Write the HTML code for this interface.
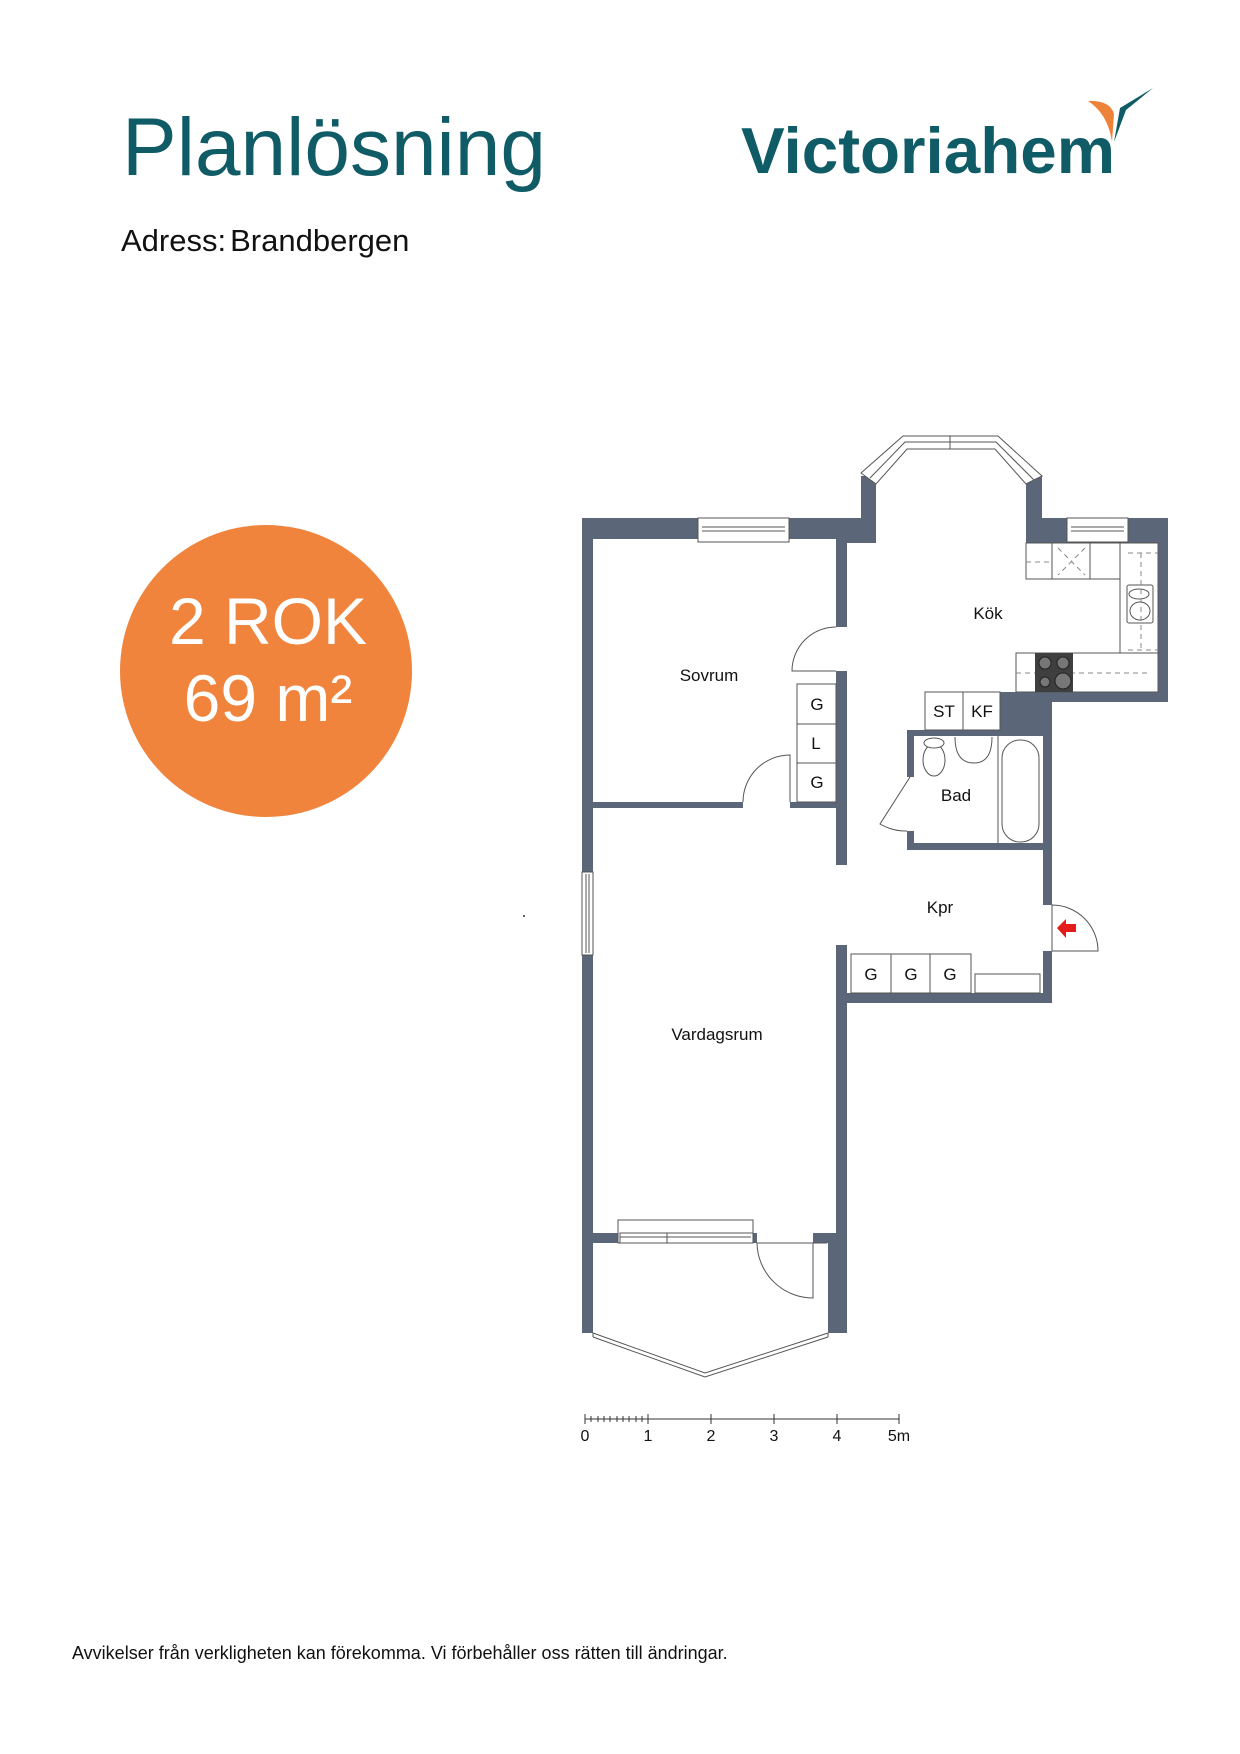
<!DOCTYPE html>
<html><head><meta charset="utf-8"><style>
html,body{margin:0;padding:0;background:#fff}
svg{display:block}
text{font-family:"Liberation Sans",Arial,sans-serif}
</style></head><body>
<svg width="1240" height="1754" viewBox="0 0 1240 1754" xmlns="http://www.w3.org/2000/svg">
<!-- header -->
<text x="122" y="175" font-size="82" fill="#0f5b66">Planlösning</text>
<text x="741" y="173" font-size="65" font-weight="bold" fill="#0f5b66" textLength="374" lengthAdjust="spacingAndGlyphs">Victoriahem</text>
<path d="M1088,101 Q1110,100 1114,114 L1112,142 Q1108,114 1088,101Z" fill="#ee8238"/>
<path d="M1114,142 L1120,108 L1153,88 L1126,110Z" fill="#0f5b66"/>
<text x="121" y="251" font-size="31" fill="#111">Adress:<tspan dx="4">Brandbergen</tspan></text>

<circle cx="266" cy="671" r="146" fill="#f0843d"/>
<text x="268" y="644" font-size="66" fill="#fff" text-anchor="middle">2 ROK</text>
<text x="268" y="721" font-size="66" fill="#fff" text-anchor="middle">69 m²</text>

<g fill="#5b6779">
<rect x="582" y="518" width="11" height="354"/>
<rect x="582" y="955" width="11" height="378"/>
<rect x="582" y="518" width="294" height="21"/>
<rect x="847" y="518" width="29" height="25"/>
<rect x="861" y="476" width="15" height="67"/>
<rect x="1026" y="476" width="16" height="67"/>
<rect x="1026" y="518" width="142" height="25"/>
<rect x="1158" y="518" width="10" height="184"/>
<rect x="1000" y="692" width="168" height="10"/>
<rect x="1000" y="692" width="52" height="44"/>
<rect x="1043" y="702" width="9" height="203"/>
<rect x="1043" y="951" width="9" height="52"/>
<rect x="907" y="730" width="145" height="6"/>
<rect x="907" y="730" width="7" height="47"/>
<rect x="907" y="831" width="7" height="19"/>
<rect x="907" y="843" width="136" height="7"/>
<rect x="836" y="538" width="11" height="89"/>
<rect x="836" y="671" width="11" height="194"/>
<rect x="593" y="802" width="150" height="6"/>
<rect x="790" y="802" width="46" height="6"/>
<rect x="836" y="993" width="216" height="10"/>
<rect x="836" y="945" width="11" height="298"/>
<rect x="813" y="1233" width="34" height="10"/>
<rect x="828" y="1233" width="19" height="100"/>
<rect x="593" y="1233" width="25" height="10"/>
<rect x="753" y="1233" width="4" height="10"/>
</g>

<g fill="#fff" stroke="#555" stroke-width="1">
<rect x="698" y="518" width="91" height="24"/>
<line x1="702" y1="527" x2="785" y2="527"/><line x1="702" y1="531" x2="785" y2="531"/>
<rect x="1067" y="518" width="61" height="24"/>
<line x1="1071" y1="527" x2="1124" y2="527"/><line x1="1071" y1="531" x2="1124" y2="531"/>
<rect x="582" y="872" width="11" height="83"/>
<line x1="586" y1="874" x2="586" y2="953"/><line x1="589" y1="874" x2="589" y2="953"/>
<rect x="618" y="1220" width="135" height="23"/>
<rect x="620" y="1233" width="133" height="10"/>
<line x1="620" y1="1237" x2="751" y2="1237"/><line x1="667" y1="1233" x2="667" y2="1243"/>
<path d="M861,473 L903,436 L998,436 L1042,476 L1026,484 L995,449 L907,449 L876,484 Z"/>
<polyline fill="none" points="870,478 905,442 996,442 1034,480"/>
<line x1="950" y1="436" x2="950" y2="449"/>
<rect x="1026" y="543" width="132" height="36"/>
<rect x="1120" y="543" width="38" height="149"/>
<rect x="1016" y="653" width="142" height="39"/>
<line x1="1052" y1="543" x2="1052" y2="579"/><line x1="1090" y1="543" x2="1090" y2="579"/>
<rect x="1127" y="585" width="26" height="38" rx="2"/>
<ellipse cx="1139" cy="594" rx="10" ry="5"/><ellipse cx="1140" cy="611" rx="10" ry="9"/>
<rect x="925" y="692" width="75" height="38"/>
<line x1="963" y1="692" x2="963" y2="730"/>
<rect x="797" y="684" width="39" height="118"/>
<line x1="797" y1="724" x2="836" y2="724"/><line x1="797" y1="763" x2="836" y2="763"/>
<rect x="851" y="954" width="120" height="39"/>
<line x1="891" y1="954" x2="891" y2="993"/><line x1="930" y1="954" x2="930" y2="993"/>
<rect x="975" y="974" width="65" height="19"/>
<line x1="998" y1="736" x2="998" y2="843"/>
<rect x="1002" y="740" width="37" height="102" rx="18"/>
<ellipse cx="934" cy="760" rx="11" ry="16"/>
<ellipse cx="934" cy="743" rx="10" ry="5"/>
<path d="M955,737 Q955,763 974,763 Q992,763 992,737"/>
</g>
<g fill="none" stroke="#555" stroke-width="1">
<path d="M1128,553 L1158,553 M1128,650 L1158,650 M1141,553 L1141,650 M1026,562 L1052,562 M1058,548 L1085,575 M1085,548 L1058,575 M1016,673 L1150,673" stroke-dasharray="5,4" stroke="#888"/>
<path d="M836,627 A44,44 0 0 0 792,671 L836,671"/>
<path d="M743,802 A47,47 0 0 1 790,755 L790,802"/>
<path d="M910,777 L880,824 A52,52 0 0 0 907,831"/>
<path d="M1052,905 A46,46 0 0 1 1098,951 L1052,951 L1052,905"/>
<path d="M757,1243 L827,1243 M813,1243 L813,1298 A56,56 0 0 1 757,1243"/>
<polyline points="593,1333 705,1373 828,1333"/>
<polyline points="593,1337 705,1377 828,1337"/>
<line x1="593" y1="1333" x2="593" y2="1337"/><line x1="828" y1="1333" x2="828" y2="1337"/>
</g>
<rect x="1035" y="653" width="38" height="39" fill="#3f3f3f"/>
<circle cx="1045" cy="663" r="6" fill="#777" stroke="#222"/><circle cx="1063" cy="663" r="6" fill="#777" stroke="#222"/>
<circle cx="1045" cy="682" r="5" fill="#777" stroke="#222"/><circle cx="1063" cy="681" r="8" fill="#777" stroke="#222"/>
<path d="M1057,928 L1066,919 L1066,924 L1076,924 L1076,932 L1066,932 L1066,938 Z" fill="#e41b1b"/>

<g font-size="17" fill="#111" text-anchor="middle">
<text x="709" y="681">Sovrum</text>
<text x="988" y="619">Kök</text>
<text x="956" y="801">Bad</text>
<text x="940" y="913">Kpr</text>
<text x="717" y="1040">Vardagsrum</text>
<text x="944" y="717">ST</text><text x="982" y="717">KF</text>
<text x="817" y="710">G</text><text x="816" y="749">L</text><text x="817" y="788">G</text>
<text x="871" y="980">G</text><text x="911" y="980">G</text><text x="950" y="980">G</text>
</g>
<g stroke="#333" stroke-width="1">
<line x1="585" y1="1419" x2="899" y2="1419"/>
<line x1="585" y1="1414" x2="585" y2="1424"/><line x1="648" y1="1414" x2="648" y2="1424"/><line x1="711" y1="1414" x2="711" y2="1424"/><line x1="774" y1="1414" x2="774" y2="1424"/><line x1="837" y1="1414" x2="837" y2="1424"/><line x1="899" y1="1414" x2="899" y2="1424"/>
<path d="M591,1416v6M598,1416v6M604,1416v6M610,1416v6M617,1416v6M623,1416v6M629,1416v6M636,1416v6M642,1416v6"/>
</g>
<g font-size="16" fill="#111" text-anchor="middle">
<text x="585" y="1441">0</text><text x="648" y="1441">1</text><text x="711" y="1441">2</text><text x="774" y="1441">3</text><text x="837" y="1441">4</text><text x="899" y="1441">5m</text>
</g>
<circle cx="524" cy="916" r="1" fill="#333"/>
<text x="72" y="1659" font-size="18" fill="#111">Avvikelser från verkligheten kan förekomma. Vi förbehåller oss rätten till ändringar.</text>
</svg>
</body></html>
